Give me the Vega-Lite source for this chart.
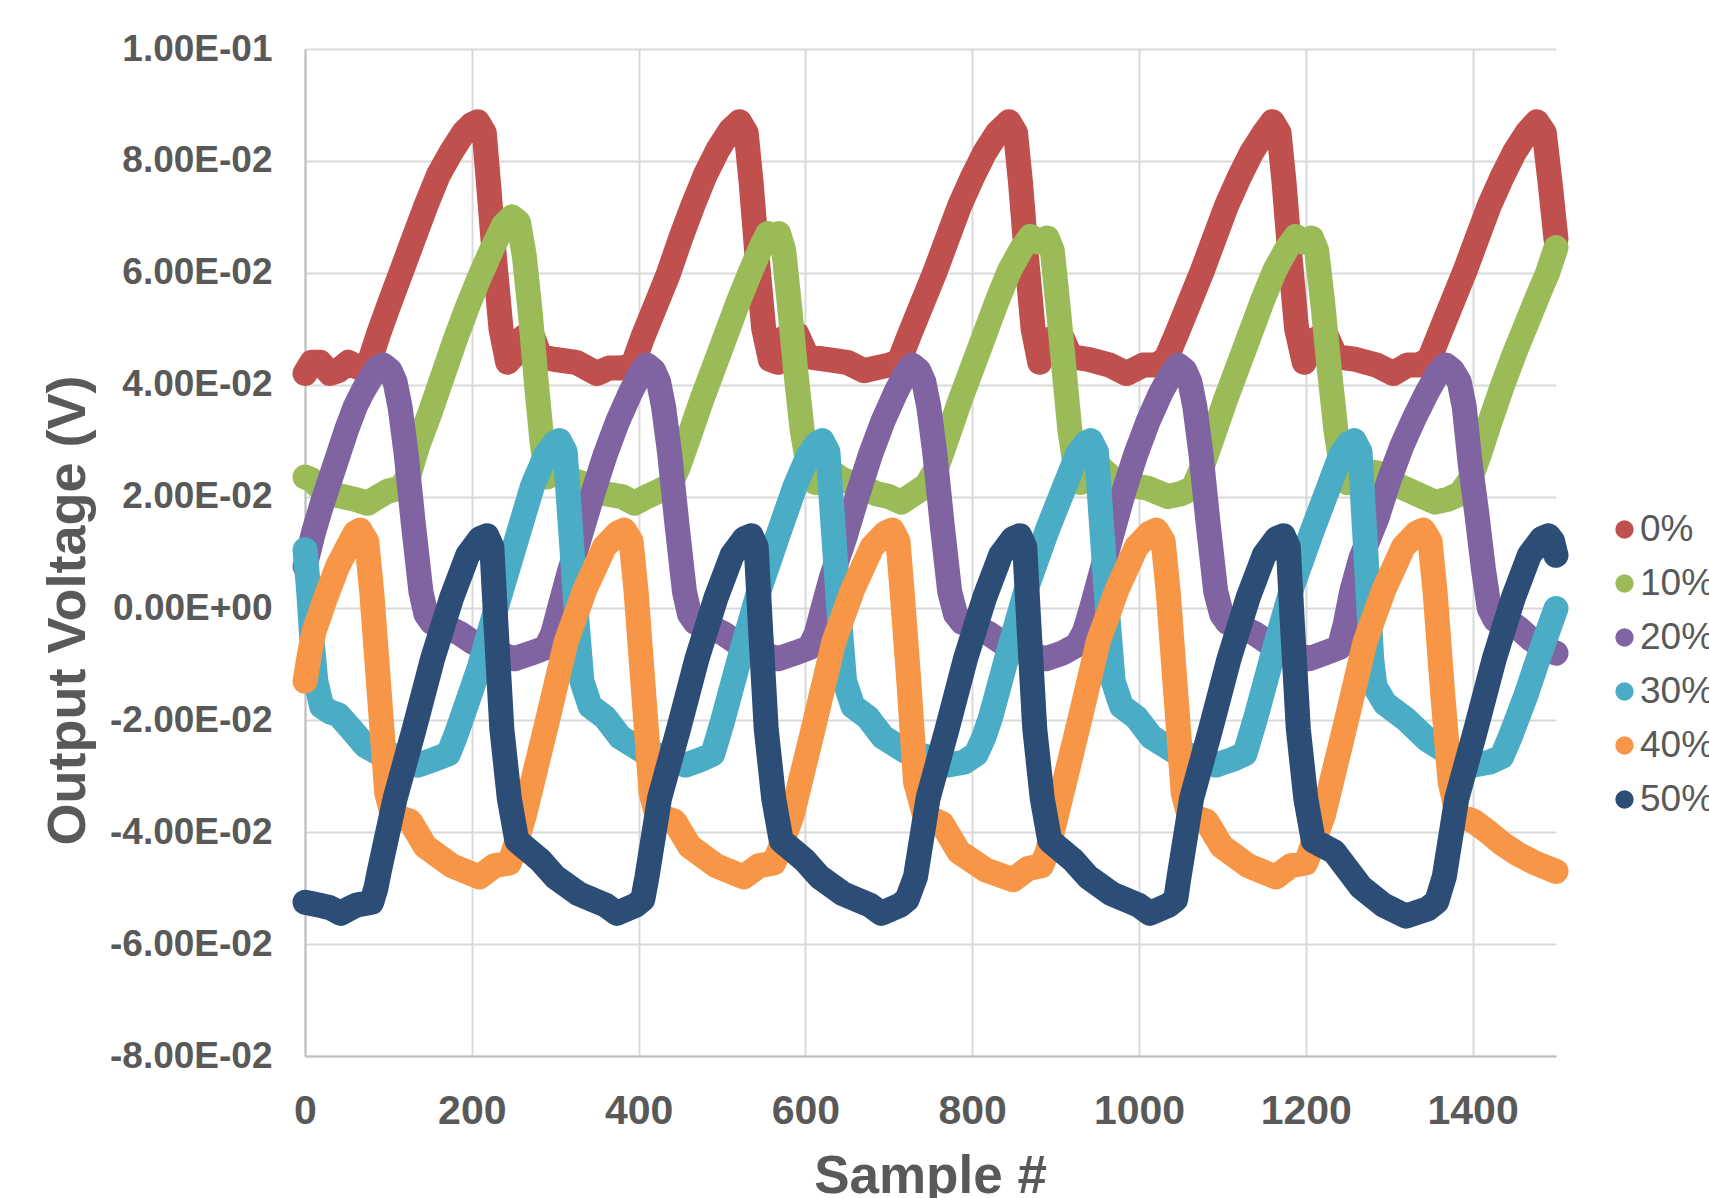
{
"$schema": "https://vega.github.io/schema/vega-lite/v6.json",
"width": 1251, "height": 1007,
"autosize": {"type": "none"},
"padding": {"left": 305, "top": 49, "right": 153, "bottom": 142},
"background": "white",
"config": {"view": {"stroke": null}, "font": "Liberation Sans"},
"data": {"values": [
{"s":"0%","x":0,"y":0.042},{"s":"0%","x":8,"y":0.044},{"s":"0%","x":18,"y":0.044},{"s":"0%","x":30,"y":0.042},{"s":"0%","x":40,"y":0.0425},{"s":"0%","x":52,"y":0.044},{"s":"0%","x":65,"y":0.043},{"s":"0%","x":76,"y":0.0435},{"s":"0%","x":88,"y":0.049},{"s":"0%","x":100,"y":0.054},{"s":"0%","x":115,"y":0.06},{"s":"0%","x":130,"y":0.066},{"s":"0%","x":145,"y":0.072},{"s":"0%","x":160,"y":0.0775},{"s":"0%","x":175,"y":0.0815},{"s":"0%","x":190,"y":0.085},{"s":"0%","x":200,"y":0.0865},{"s":"0%","x":207,"y":0.087},{"s":"0%","x":215,"y":0.085},{"s":"0%","x":220,"y":0.076},{"s":"0%","x":227,"y":0.063},{"s":"0%","x":235,"y":0.05},{"s":"0%","x":243,"y":0.044},{"s":"0%","x":252,"y":0.0455},{"s":"0%","x":262,"y":0.0485},{"s":"0%","x":272,"y":0.049},{"s":"0%","x":282,"y":0.045},{"s":"0%","x":300,"y":0.0445},{"s":"0%","x":325,"y":0.044},{"s":"0%","x":350,"y":0.042},{"s":"0%","x":365,"y":0.043},{"s":"0%","x":380,"y":0.043},{"s":"0%","x":393,"y":0.0435},{"s":"0%","x":405,"y":0.0485},{"s":"0%","x":420,"y":0.054},{"s":"0%","x":435,"y":0.0595},{"s":"0%","x":450,"y":0.066},{"s":"0%","x":465,"y":0.072},{"s":"0%","x":480,"y":0.0775},{"s":"0%","x":495,"y":0.082},{"s":"0%","x":510,"y":0.0855},{"s":"0%","x":521,"y":0.087},{"s":"0%","x":529,"y":0.085},{"s":"0%","x":535,"y":0.076},{"s":"0%","x":542,"y":0.063},{"s":"0%","x":550,"y":0.05},{"s":"0%","x":558,"y":0.0445},{"s":"0%","x":567,"y":0.044},{"s":"0%","x":576,"y":0.0485},{"s":"0%","x":590,"y":0.049},{"s":"0%","x":602,"y":0.045},{"s":"0%","x":625,"y":0.0445},{"s":"0%","x":650,"y":0.044},{"s":"0%","x":670,"y":0.0425},{"s":"0%","x":685,"y":0.043},{"s":"0%","x":700,"y":0.0435},{"s":"0%","x":712,"y":0.044},{"s":"0%","x":725,"y":0.049},{"s":"0%","x":740,"y":0.0545},{"s":"0%","x":755,"y":0.06},{"s":"0%","x":770,"y":0.066},{"s":"0%","x":785,"y":0.072},{"s":"0%","x":800,"y":0.077},{"s":"0%","x":815,"y":0.0815},{"s":"0%","x":830,"y":0.085},{"s":"0%","x":844,"y":0.087},{"s":"0%","x":852,"y":0.085},{"s":"0%","x":858,"y":0.076},{"s":"0%","x":865,"y":0.063},{"s":"0%","x":873,"y":0.05},{"s":"0%","x":881,"y":0.044},{"s":"0%","x":892,"y":0.048},{"s":"0%","x":906,"y":0.049},{"s":"0%","x":918,"y":0.045},{"s":"0%","x":940,"y":0.0445},{"s":"0%","x":965,"y":0.0435},{"s":"0%","x":985,"y":0.042},{"s":"0%","x":1005,"y":0.0435},{"s":"0%","x":1020,"y":0.0435},{"s":"0%","x":1032,"y":0.0445},{"s":"0%","x":1045,"y":0.049},{"s":"0%","x":1060,"y":0.0545},{"s":"0%","x":1075,"y":0.06},{"s":"0%","x":1090,"y":0.066},{"s":"0%","x":1105,"y":0.072},{"s":"0%","x":1120,"y":0.077},{"s":"0%","x":1135,"y":0.0815},{"s":"0%","x":1150,"y":0.085},{"s":"0%","x":1160,"y":0.087},{"s":"0%","x":1168,"y":0.085},{"s":"0%","x":1174,"y":0.076},{"s":"0%","x":1181,"y":0.063},{"s":"0%","x":1189,"y":0.05},{"s":"0%","x":1198,"y":0.044},{"s":"0%","x":1210,"y":0.048},{"s":"0%","x":1224,"y":0.049},{"s":"0%","x":1236,"y":0.045},{"s":"0%","x":1260,"y":0.0445},{"s":"0%","x":1285,"y":0.0435},{"s":"0%","x":1305,"y":0.042},{"s":"0%","x":1322,"y":0.0435},{"s":"0%","x":1335,"y":0.0435},{"s":"0%","x":1348,"y":0.0445},{"s":"0%","x":1360,"y":0.049},{"s":"0%","x":1375,"y":0.0545},{"s":"0%","x":1390,"y":0.06},{"s":"0%","x":1405,"y":0.066},{"s":"0%","x":1420,"y":0.072},{"s":"0%","x":1435,"y":0.077},{"s":"0%","x":1450,"y":0.0815},{"s":"0%","x":1465,"y":0.085},{"s":"0%","x":1477,"y":0.087},{"s":"0%","x":1486,"y":0.085},{"s":"0%","x":1493,"y":0.076},{"s":"0%","x":1500,"y":0.066},
{"s":"10%","x":0,"y":0.0235},{"s":"10%","x":8,"y":0.023},{"s":"10%","x":18,"y":0.0215},{"s":"10%","x":30,"y":0.0205},{"s":"10%","x":45,"y":0.02},{"s":"10%","x":60,"y":0.0195},{"s":"10%","x":75,"y":0.0188},{"s":"10%","x":88,"y":0.02},{"s":"10%","x":100,"y":0.021},{"s":"10%","x":115,"y":0.0215},{"s":"10%","x":125,"y":0.024},{"s":"10%","x":135,"y":0.029},{"s":"10%","x":150,"y":0.035},{"s":"10%","x":165,"y":0.0415},{"s":"10%","x":180,"y":0.048},{"s":"10%","x":195,"y":0.054},{"s":"10%","x":210,"y":0.0595},{"s":"10%","x":225,"y":0.0645},{"s":"10%","x":238,"y":0.0685},{"s":"10%","x":248,"y":0.07},{"s":"10%","x":256,"y":0.069},{"s":"10%","x":263,"y":0.063},{"s":"10%","x":270,"y":0.053},{"s":"10%","x":277,"y":0.041},{"s":"10%","x":284,"y":0.03},{"s":"10%","x":290,"y":0.0235},{"s":"10%","x":298,"y":0.024},{"s":"10%","x":308,"y":0.0245},{"s":"10%","x":320,"y":0.023},{"s":"10%","x":340,"y":0.022},{"s":"10%","x":360,"y":0.0205},{"s":"10%","x":380,"y":0.02},{"s":"10%","x":395,"y":0.0188},{"s":"10%","x":410,"y":0.02},{"s":"10%","x":425,"y":0.021},{"s":"10%","x":437,"y":0.022},{"s":"10%","x":447,"y":0.025},{"s":"10%","x":460,"y":0.0305},{"s":"10%","x":475,"y":0.037},{"s":"10%","x":490,"y":0.043},{"s":"10%","x":505,"y":0.049},{"s":"10%","x":520,"y":0.055},{"s":"10%","x":535,"y":0.0605},{"s":"10%","x":548,"y":0.065},{"s":"10%","x":555,"y":0.067},{"s":"10%","x":562,"y":0.066},{"s":"10%","x":568,"y":0.067},{"s":"10%","x":574,"y":0.064},{"s":"10%","x":581,"y":0.054},{"s":"10%","x":588,"y":0.043},{"s":"10%","x":596,"y":0.032},{"s":"10%","x":604,"y":0.025},{"s":"10%","x":612,"y":0.0225},{"s":"10%","x":620,"y":0.0235},{"s":"10%","x":630,"y":0.0245},{"s":"10%","x":645,"y":0.023},{"s":"10%","x":665,"y":0.022},{"s":"10%","x":685,"y":0.0205},{"s":"10%","x":700,"y":0.02},{"s":"10%","x":715,"y":0.019},{"s":"10%","x":730,"y":0.0205},{"s":"10%","x":745,"y":0.022},{"s":"10%","x":757,"y":0.025},{"s":"10%","x":770,"y":0.0305},{"s":"10%","x":785,"y":0.037},{"s":"10%","x":800,"y":0.043},{"s":"10%","x":815,"y":0.049},{"s":"10%","x":830,"y":0.055},{"s":"10%","x":845,"y":0.0605},{"s":"10%","x":860,"y":0.0645},{"s":"10%","x":870,"y":0.0665},{"s":"10%","x":880,"y":0.0655},{"s":"10%","x":890,"y":0.0662},{"s":"10%","x":896,"y":0.064},{"s":"10%","x":903,"y":0.054},{"s":"10%","x":910,"y":0.043},{"s":"10%","x":917,"y":0.032},{"s":"10%","x":924,"y":0.025},{"s":"10%","x":930,"y":0.0225},{"s":"10%","x":940,"y":0.024},{"s":"10%","x":955,"y":0.025},{"s":"10%","x":970,"y":0.023},{"s":"10%","x":990,"y":0.022},{"s":"10%","x":1010,"y":0.0215},{"s":"10%","x":1035,"y":0.02},{"s":"10%","x":1050,"y":0.0205},{"s":"10%","x":1065,"y":0.0215},{"s":"10%","x":1075,"y":0.025},{"s":"10%","x":1088,"y":0.0305},{"s":"10%","x":1103,"y":0.037},{"s":"10%","x":1118,"y":0.043},{"s":"10%","x":1133,"y":0.049},{"s":"10%","x":1148,"y":0.055},{"s":"10%","x":1163,"y":0.0605},{"s":"10%","x":1178,"y":0.0645},{"s":"10%","x":1188,"y":0.0665},{"s":"10%","x":1198,"y":0.0655},{"s":"10%","x":1207,"y":0.0662},{"s":"10%","x":1213,"y":0.064},{"s":"10%","x":1220,"y":0.055},{"s":"10%","x":1228,"y":0.043},{"s":"10%","x":1236,"y":0.032},{"s":"10%","x":1243,"y":0.025},{"s":"10%","x":1250,"y":0.0225},{"s":"10%","x":1262,"y":0.0235},{"s":"10%","x":1275,"y":0.0245},{"s":"10%","x":1293,"y":0.024},{"s":"10%","x":1310,"y":0.022},{"s":"10%","x":1325,"y":0.021},{"s":"10%","x":1340,"y":0.02},{"s":"10%","x":1355,"y":0.019},{"s":"10%","x":1370,"y":0.0195},{"s":"10%","x":1385,"y":0.0205},{"s":"10%","x":1397,"y":0.023},{"s":"10%","x":1408,"y":0.0275},{"s":"10%","x":1420,"y":0.033},{"s":"10%","x":1435,"y":0.0395},{"s":"10%","x":1450,"y":0.0455},{"s":"10%","x":1465,"y":0.051},{"s":"10%","x":1480,"y":0.0565},{"s":"10%","x":1490,"y":0.06},{"s":"10%","x":1500,"y":0.0645},
{"s":"20%","x":0,"y":0.0075},{"s":"20%","x":10,"y":0.0135},{"s":"20%","x":20,"y":0.0185},{"s":"20%","x":30,"y":0.023},{"s":"20%","x":40,"y":0.0275},{"s":"20%","x":50,"y":0.032},{"s":"20%","x":60,"y":0.036},{"s":"20%","x":70,"y":0.039},{"s":"20%","x":80,"y":0.0415},{"s":"20%","x":87,"y":0.043},{"s":"20%","x":94,"y":0.0435},{"s":"20%","x":102,"y":0.0425},{"s":"20%","x":108,"y":0.0405},{"s":"20%","x":114,"y":0.036},{"s":"20%","x":121,"y":0.028},{"s":"20%","x":130,"y":0.015},{"s":"20%","x":139,"y":0.003},{"s":"20%","x":145,"y":-0.001},{"s":"20%","x":152,"y":-0.0025},{"s":"20%","x":166,"y":-0.003},{"s":"20%","x":186,"y":-0.0045},{"s":"20%","x":201,"y":-0.006},{"s":"20%","x":216,"y":-0.007},{"s":"20%","x":231,"y":-0.008},{"s":"20%","x":251,"y":-0.009},{"s":"20%","x":271,"y":-0.008},{"s":"20%","x":289,"y":-0.007},{"s":"20%","x":297,"y":-0.0045},{"s":"20%","x":305,"y":0},{"s":"20%","x":315,"y":0.0055},{"s":"20%","x":330,"y":0.013},{"s":"20%","x":345,"y":0.0205},{"s":"20%","x":360,"y":0.0275},{"s":"20%","x":375,"y":0.0335},{"s":"20%","x":390,"y":0.0385},{"s":"20%","x":402,"y":0.042},{"s":"20%","x":410,"y":0.0435},{"s":"20%","x":418,"y":0.0425},{"s":"20%","x":424,"y":0.0405},{"s":"20%","x":430,"y":0.036},{"s":"20%","x":437,"y":0.028},{"s":"20%","x":446,"y":0.015},{"s":"20%","x":455,"y":0.003},{"s":"20%","x":461,"y":-0.001},{"s":"20%","x":468,"y":-0.0025},{"s":"20%","x":482,"y":-0.003},{"s":"20%","x":502,"y":-0.0045},{"s":"20%","x":517,"y":-0.006},{"s":"20%","x":532,"y":-0.007},{"s":"20%","x":547,"y":-0.008},{"s":"20%","x":567,"y":-0.009},{"s":"20%","x":587,"y":-0.008},{"s":"20%","x":605,"y":-0.007},{"s":"20%","x":613,"y":-0.0045},{"s":"20%","x":621,"y":0},{"s":"20%","x":631,"y":0.0055},{"s":"20%","x":648,"y":0.013},{"s":"20%","x":663,"y":0.0205},{"s":"20%","x":678,"y":0.0275},{"s":"20%","x":693,"y":0.0335},{"s":"20%","x":708,"y":0.0385},{"s":"20%","x":720,"y":0.042},{"s":"20%","x":728,"y":0.0435},{"s":"20%","x":736,"y":0.0425},{"s":"20%","x":742,"y":0.0405},{"s":"20%","x":748,"y":0.036},{"s":"20%","x":755,"y":0.028},{"s":"20%","x":764,"y":0.015},{"s":"20%","x":773,"y":0.003},{"s":"20%","x":780,"y":-0.001},{"s":"20%","x":788,"y":-0.0025},{"s":"20%","x":800,"y":-0.003},{"s":"20%","x":820,"y":-0.0045},{"s":"20%","x":835,"y":-0.006},{"s":"20%","x":850,"y":-0.007},{"s":"20%","x":865,"y":-0.008},{"s":"20%","x":888,"y":-0.009},{"s":"20%","x":908,"y":-0.008},{"s":"20%","x":926,"y":-0.0065},{"s":"20%","x":935,"y":-0.004},{"s":"20%","x":943,"y":0},{"s":"20%","x":953,"y":0.0055},{"s":"20%","x":968,"y":0.0135},{"s":"20%","x":982,"y":0.021},{"s":"20%","x":996,"y":0.0275},{"s":"20%","x":1011,"y":0.0335},{"s":"20%","x":1026,"y":0.0385},{"s":"20%","x":1039,"y":0.042},{"s":"20%","x":1047,"y":0.0435},{"s":"20%","x":1055,"y":0.0425},{"s":"20%","x":1061,"y":0.0405},{"s":"20%","x":1067,"y":0.036},{"s":"20%","x":1074,"y":0.028},{"s":"20%","x":1083,"y":0.015},{"s":"20%","x":1092,"y":0.003},{"s":"20%","x":1099,"y":-0.001},{"s":"20%","x":1106,"y":-0.0025},{"s":"20%","x":1119,"y":-0.003},{"s":"20%","x":1139,"y":-0.0045},{"s":"20%","x":1154,"y":-0.006},{"s":"20%","x":1169,"y":-0.007},{"s":"20%","x":1184,"y":-0.008},{"s":"20%","x":1204,"y":-0.009},{"s":"20%","x":1222,"y":-0.008},{"s":"20%","x":1240,"y":-0.007},{"s":"20%","x":1247,"y":-0.003},{"s":"20%","x":1255,"y":0.003},{"s":"20%","x":1266,"y":0.009},{"s":"20%","x":1285,"y":0.016},{"s":"20%","x":1300,"y":0.023},{"s":"20%","x":1315,"y":0.029},{"s":"20%","x":1330,"y":0.034},{"s":"20%","x":1345,"y":0.0385},{"s":"20%","x":1358,"y":0.042},{"s":"20%","x":1368,"y":0.0435},{"s":"20%","x":1376,"y":0.0425},{"s":"20%","x":1384,"y":0.0405},{"s":"20%","x":1390,"y":0.036},{"s":"20%","x":1397,"y":0.026},{"s":"20%","x":1405,"y":0.017},{"s":"20%","x":1413,"y":0.007},{"s":"20%","x":1420,"y":0},{"s":"20%","x":1427,"y":-0.002},{"s":"20%","x":1440,"y":-0.002},{"s":"20%","x":1455,"y":-0.0035},{"s":"20%","x":1470,"y":-0.0055},{"s":"20%","x":1485,"y":-0.007},{"s":"20%","x":1500,"y":-0.008},
{"s":"30%","x":0,"y":0.0105},{"s":"30%","x":4,"y":0.004},{"s":"30%","x":8,"y":-0.005},{"s":"30%","x":13,"y":-0.013},{"s":"30%","x":20,"y":-0.0175},{"s":"30%","x":30,"y":-0.0185},{"s":"30%","x":40,"y":-0.019},{"s":"30%","x":55,"y":-0.0215},{"s":"30%","x":72,"y":-0.0245},{"s":"30%","x":90,"y":-0.026},{"s":"30%","x":117,"y":-0.0265},{"s":"30%","x":135,"y":-0.028},{"s":"30%","x":155,"y":-0.027},{"s":"30%","x":172,"y":-0.026},{"s":"30%","x":180,"y":-0.023},{"s":"30%","x":186,"y":-0.0205},{"s":"30%","x":209,"y":-0.0105},{"s":"30%","x":232,"y":0.0015},{"s":"30%","x":254,"y":0.0125},{"s":"30%","x":273,"y":0.022},{"s":"30%","x":289,"y":0.0275},{"s":"30%","x":299,"y":0.0295},{"s":"30%","x":305,"y":0.03},{"s":"30%","x":312,"y":0.028},{"s":"30%","x":319,"y":0.013},{"s":"30%","x":326,"y":-0.002},{"s":"30%","x":332,"y":-0.013},{"s":"30%","x":342,"y":-0.0175},{"s":"30%","x":360,"y":-0.0195},{"s":"30%","x":378,"y":-0.023},{"s":"30%","x":405,"y":-0.0255},{"s":"30%","x":430,"y":-0.0265},{"s":"30%","x":456,"y":-0.028},{"s":"30%","x":475,"y":-0.027},{"s":"30%","x":489,"y":-0.026},{"s":"30%","x":495,"y":-0.023},{"s":"30%","x":500,"y":-0.0205},{"s":"30%","x":520,"y":-0.0095},{"s":"30%","x":544,"y":0.003},{"s":"30%","x":568,"y":0.0135},{"s":"30%","x":588,"y":0.022},{"s":"30%","x":604,"y":0.0275},{"s":"30%","x":614,"y":0.0295},{"s":"30%","x":620,"y":0.03},{"s":"30%","x":627,"y":0.028},{"s":"30%","x":634,"y":0.013},{"s":"30%","x":641,"y":-0.002},{"s":"30%","x":647,"y":-0.013},{"s":"30%","x":657,"y":-0.0175},{"s":"30%","x":675,"y":-0.0195},{"s":"30%","x":693,"y":-0.023},{"s":"30%","x":720,"y":-0.0255},{"s":"30%","x":745,"y":-0.0265},{"s":"30%","x":770,"y":-0.028},{"s":"30%","x":790,"y":-0.0275},{"s":"30%","x":805,"y":-0.026},{"s":"30%","x":814,"y":-0.023},{"s":"30%","x":822,"y":-0.0195},{"s":"30%","x":842,"y":-0.0085},{"s":"30%","x":866,"y":0.004},{"s":"30%","x":890,"y":0.014},{"s":"30%","x":910,"y":0.0215},{"s":"30%","x":926,"y":0.0275},{"s":"30%","x":936,"y":0.0295},{"s":"30%","x":942,"y":0.03},{"s":"30%","x":949,"y":0.028},{"s":"30%","x":956,"y":0.013},{"s":"30%","x":963,"y":-0.002},{"s":"30%","x":969,"y":-0.013},{"s":"30%","x":979,"y":-0.0175},{"s":"30%","x":997,"y":-0.0195},{"s":"30%","x":1015,"y":-0.023},{"s":"30%","x":1042,"y":-0.0255},{"s":"30%","x":1067,"y":-0.0265},{"s":"30%","x":1092,"y":-0.028},{"s":"30%","x":1112,"y":-0.027},{"s":"30%","x":1127,"y":-0.026},{"s":"30%","x":1133,"y":-0.023},{"s":"30%","x":1140,"y":-0.0195},{"s":"30%","x":1160,"y":-0.0085},{"s":"30%","x":1184,"y":0.004},{"s":"30%","x":1208,"y":0.014},{"s":"30%","x":1227,"y":0.0215},{"s":"30%","x":1242,"y":0.0275},{"s":"30%","x":1252,"y":0.0295},{"s":"30%","x":1258,"y":0.03},{"s":"30%","x":1265,"y":0.028},{"s":"30%","x":1272,"y":0.01},{"s":"30%","x":1279,"y":-0.009},{"s":"30%","x":1283,"y":-0.014},{"s":"30%","x":1295,"y":-0.017},{"s":"30%","x":1320,"y":-0.0198},{"s":"30%","x":1346,"y":-0.0235},{"s":"30%","x":1373,"y":-0.026},{"s":"30%","x":1400,"y":-0.028},{"s":"30%","x":1420,"y":-0.0275},{"s":"30%","x":1435,"y":-0.0265},{"s":"30%","x":1445,"y":-0.023},{"s":"30%","x":1464,"y":-0.0155},{"s":"30%","x":1482,"y":-0.0075},{"s":"30%","x":1500,"y":0},
{"s":"40%","x":0,"y":-0.013},{"s":"40%","x":5,"y":-0.0085},{"s":"40%","x":11,"y":-0.004},{"s":"40%","x":25,"y":0.002},{"s":"40%","x":39,"y":0.0075},{"s":"40%","x":53,"y":0.0115},{"s":"40%","x":60,"y":0.0135},{"s":"40%","x":66,"y":0.014},{"s":"40%","x":74,"y":0.012},{"s":"40%","x":80,"y":0.003},{"s":"40%","x":89,"y":-0.015},{"s":"40%","x":98,"y":-0.033},{"s":"40%","x":105,"y":-0.037},{"s":"40%","x":126,"y":-0.038},{"s":"40%","x":144,"y":-0.0425},{"s":"40%","x":176,"y":-0.046},{"s":"40%","x":209,"y":-0.048},{"s":"40%","x":227,"y":-0.046},{"s":"40%","x":245,"y":-0.0455},{"s":"40%","x":250,"y":-0.0435},{"s":"40%","x":263,"y":-0.037},{"s":"40%","x":290,"y":-0.0205},{"s":"40%","x":313,"y":-0.006},{"s":"40%","x":336,"y":0.0035},{"s":"40%","x":359,"y":0.011},{"s":"40%","x":375,"y":0.0135},{"s":"40%","x":383,"y":0.014},{"s":"40%","x":391,"y":0.012},{"s":"40%","x":397,"y":0.003},{"s":"40%","x":406,"y":-0.015},{"s":"40%","x":415,"y":-0.033},{"s":"40%","x":422,"y":-0.037},{"s":"40%","x":443,"y":-0.038},{"s":"40%","x":461,"y":-0.0425},{"s":"40%","x":493,"y":-0.046},{"s":"40%","x":526,"y":-0.048},{"s":"40%","x":544,"y":-0.046},{"s":"40%","x":562,"y":-0.0455},{"s":"40%","x":568,"y":-0.0435},{"s":"40%","x":584,"y":-0.037},{"s":"40%","x":611,"y":-0.0205},{"s":"40%","x":634,"y":-0.006},{"s":"40%","x":657,"y":0.0035},{"s":"40%","x":680,"y":0.011},{"s":"40%","x":696,"y":0.0135},{"s":"40%","x":704,"y":0.014},{"s":"40%","x":711,"y":0.012},{"s":"40%","x":716,"y":0.003},{"s":"40%","x":724,"y":-0.013},{"s":"40%","x":732,"y":-0.031},{"s":"40%","x":743,"y":-0.037},{"s":"40%","x":764,"y":-0.0385},{"s":"40%","x":784,"y":-0.0435},{"s":"40%","x":817,"y":-0.0468},{"s":"40%","x":849,"y":-0.0485},{"s":"40%","x":867,"y":-0.0465},{"s":"40%","x":883,"y":-0.046},{"s":"40%","x":890,"y":-0.0436},{"s":"40%","x":901,"y":-0.037},{"s":"40%","x":928,"y":-0.0205},{"s":"40%","x":951,"y":-0.006},{"s":"40%","x":974,"y":0.0035},{"s":"40%","x":997,"y":0.011},{"s":"40%","x":1013,"y":0.0135},{"s":"40%","x":1021,"y":0.014},{"s":"40%","x":1029,"y":0.012},{"s":"40%","x":1035,"y":0.003},{"s":"40%","x":1044,"y":-0.015},{"s":"40%","x":1053,"y":-0.033},{"s":"40%","x":1060,"y":-0.037},{"s":"40%","x":1081,"y":-0.038},{"s":"40%","x":1099,"y":-0.0425},{"s":"40%","x":1131,"y":-0.046},{"s":"40%","x":1164,"y":-0.048},{"s":"40%","x":1182,"y":-0.046},{"s":"40%","x":1200,"y":-0.0455},{"s":"40%","x":1205,"y":-0.0435},{"s":"40%","x":1221,"y":-0.037},{"s":"40%","x":1248,"y":-0.0205},{"s":"40%","x":1271,"y":-0.006},{"s":"40%","x":1294,"y":0.0035},{"s":"40%","x":1317,"y":0.011},{"s":"40%","x":1333,"y":0.0135},{"s":"40%","x":1341,"y":0.014},{"s":"40%","x":1349,"y":0.012},{"s":"40%","x":1355,"y":0.003},{"s":"40%","x":1364,"y":-0.015},{"s":"40%","x":1373,"y":-0.031},{"s":"40%","x":1382,"y":-0.037},{"s":"40%","x":1401,"y":-0.038},{"s":"40%","x":1419,"y":-0.04},{"s":"40%","x":1435,"y":-0.042},{"s":"40%","x":1453,"y":-0.0438},{"s":"40%","x":1475,"y":-0.0455},{"s":"40%","x":1500,"y":-0.047},
{"s":"50%","x":0,"y":-0.0525},{"s":"50%","x":16,"y":-0.053},{"s":"50%","x":30,"y":-0.0535},{"s":"50%","x":43,"y":-0.0545},{"s":"50%","x":55,"y":-0.0535},{"s":"50%","x":62,"y":-0.053},{"s":"50%","x":80,"y":-0.0525},{"s":"50%","x":85,"y":-0.05},{"s":"50%","x":89,"y":-0.047},{"s":"50%","x":108,"y":-0.034},{"s":"50%","x":131,"y":-0.0215},{"s":"50%","x":153,"y":-0.009},{"s":"50%","x":176,"y":0.002},{"s":"50%","x":195,"y":0.0095},{"s":"50%","x":210,"y":0.0125},{"s":"50%","x":218,"y":0.013},{"s":"50%","x":224,"y":0.011},{"s":"50%","x":229,"y":-0.003},{"s":"50%","x":236,"y":-0.0215},{"s":"50%","x":245,"y":-0.034},{"s":"50%","x":254,"y":-0.0415},{"s":"50%","x":282,"y":-0.045},{"s":"50%","x":300,"y":-0.048},{"s":"50%","x":328,"y":-0.051},{"s":"50%","x":360,"y":-0.053},{"s":"50%","x":374,"y":-0.0545},{"s":"50%","x":397,"y":-0.053},{"s":"50%","x":405,"y":-0.052},{"s":"50%","x":410,"y":-0.048},{"s":"50%","x":425,"y":-0.034},{"s":"50%","x":448,"y":-0.0215},{"s":"50%","x":470,"y":-0.009},{"s":"50%","x":493,"y":0.002},{"s":"50%","x":512,"y":0.0095},{"s":"50%","x":527,"y":0.0125},{"s":"50%","x":535,"y":0.013},{"s":"50%","x":541,"y":0.011},{"s":"50%","x":546,"y":-0.003},{"s":"50%","x":553,"y":-0.0215},{"s":"50%","x":562,"y":-0.034},{"s":"50%","x":571,"y":-0.0415},{"s":"50%","x":599,"y":-0.045},{"s":"50%","x":617,"y":-0.048},{"s":"50%","x":645,"y":-0.051},{"s":"50%","x":677,"y":-0.053},{"s":"50%","x":691,"y":-0.0545},{"s":"50%","x":714,"y":-0.053},{"s":"50%","x":722,"y":-0.052},{"s":"50%","x":732,"y":-0.048},{"s":"50%","x":747,"y":-0.034},{"s":"50%","x":770,"y":-0.0215},{"s":"50%","x":792,"y":-0.009},{"s":"50%","x":815,"y":0.002},{"s":"50%","x":834,"y":0.0095},{"s":"50%","x":849,"y":0.0125},{"s":"50%","x":857,"y":0.013},{"s":"50%","x":863,"y":0.011},{"s":"50%","x":868,"y":-0.003},{"s":"50%","x":875,"y":-0.0215},{"s":"50%","x":884,"y":-0.034},{"s":"50%","x":893,"y":-0.0415},{"s":"50%","x":921,"y":-0.045},{"s":"50%","x":939,"y":-0.048},{"s":"50%","x":967,"y":-0.051},{"s":"50%","x":999,"y":-0.053},{"s":"50%","x":1013,"y":-0.0545},{"s":"50%","x":1036,"y":-0.053},{"s":"50%","x":1044,"y":-0.052},{"s":"50%","x":1048,"y":-0.048},{"s":"50%","x":1063,"y":-0.034},{"s":"50%","x":1086,"y":-0.0215},{"s":"50%","x":1108,"y":-0.009},{"s":"50%","x":1131,"y":0.002},{"s":"50%","x":1150,"y":0.0095},{"s":"50%","x":1165,"y":0.0125},{"s":"50%","x":1173,"y":0.013},{"s":"50%","x":1179,"y":0.011},{"s":"50%","x":1184,"y":-0.003},{"s":"50%","x":1191,"y":-0.0215},{"s":"50%","x":1200,"y":-0.034},{"s":"50%","x":1209,"y":-0.0415},{"s":"50%","x":1234,"y":-0.0435},{"s":"50%","x":1266,"y":-0.0498},{"s":"50%","x":1293,"y":-0.053},{"s":"50%","x":1320,"y":-0.055},{"s":"50%","x":1346,"y":-0.0537},{"s":"50%","x":1357,"y":-0.0524},{"s":"50%","x":1366,"y":-0.048},{"s":"50%","x":1381,"y":-0.034},{"s":"50%","x":1404,"y":-0.0215},{"s":"50%","x":1426,"y":-0.009},{"s":"50%","x":1449,"y":0.002},{"s":"50%","x":1468,"y":0.0095},{"s":"50%","x":1483,"y":0.0125},{"s":"50%","x":1491,"y":0.013},{"s":"50%","x":1496,"y":0.012},{"s":"50%","x":1500,"y":0.0095}
]},
"mark": {"type": "line", "strokeWidth": 25, "strokeCap": "round", "strokeJoin": "round"},
"encoding": {
"x": {"field": "x", "type": "quantitative",
 "scale": {"domain": [0, 1500], "nice": false, "zero": false},
 "axis": {"title": "Sample #", "values": [0,200,400,600,800,1000,1200,1400], "format": "d",
  "grid": true, "gridColor": "#D9D9D9", "gridWidth": 2,
  "domainColor": "#BFBFBF", "domainWidth": 2, "ticks": false, "tickSize": 0,
  "labelFont": "Liberation Sans", "labelFontSize": 41, "labelFontWeight": "bold", "labelColor": "#595959",
  "labelPadding": 67, "labelBaseline": "alphabetic", "labelFlush": false, "labelOverlap": false,
  "titleFont": "Liberation Sans", "titleFontSize": 53, "titleFontWeight": "bold", "titleColor": "#595959",
  "titleBaseline": "alphabetic", "titleY": 136, "titleX": 625}},
"y": {"field": "y", "type": "quantitative",
 "scale": {"domain": [-0.08, 0.1], "nice": false, "zero": false},
 "axis": {"title": "Output Voltage (V)", "values": [-0.08,-0.06,-0.04,-0.02,0,0.02,0.04,0.06,0.08,0.1],
  "labelExpr": "replace(replace(replace(format(datum.value, '.2e'), 'e-', 'E-0'), 'e+', 'E+0'), '\u2212', '-')",
  "grid": true, "gridColor": "#D9D9D9", "gridWidth": 2,
  "domainColor": "#BFBFBF", "domainWidth": 2, "ticks": false, "tickSize": 0,
  "labelFont": "Liberation Sans", "labelFontSize": 37, "labelFontWeight": "bold", "labelColor": "#595959",
  "labelPadding": 33, "labelBaseline": "middle", "labelAlign": "right", "labelFlush": false, "labelOverlap": false,
  "titleFont": "Liberation Sans", "titleFontSize": 54, "titleFontWeight": "bold", "titleColor": "#595959",
  "titleAngle": 270, "titleBaseline": "alphabetic", "titleAlign": "center", "titleX": -221, "titleY": 561}},
"color": {"field": "s", "type": "nominal",
 "scale": {"domain": ["0%","10%","20%","30%","40%","50%"], "range": ["#C0504D","#9BBB59","#8064A2","#4BACC6","#F79646","#2C4D75"]},
 "legend": {"title": null, "orient": "none", "legendX": 1301, "legendY": 462, "padding": 0,
  "symbolType": "circle", "symbolSize": 336, "symbolStrokeWidth": 0,
  "labelFont": "Liberation Sans", "labelFontSize": 37, "labelColor": "#595959", "labelOffset": -3, "rowPadding": 16,
  "encode": {"symbols": {"update": {"fill": {"scale": "color", "field": "value"}, "fillOpacity": {"value": 1}}}}}}
}
}
